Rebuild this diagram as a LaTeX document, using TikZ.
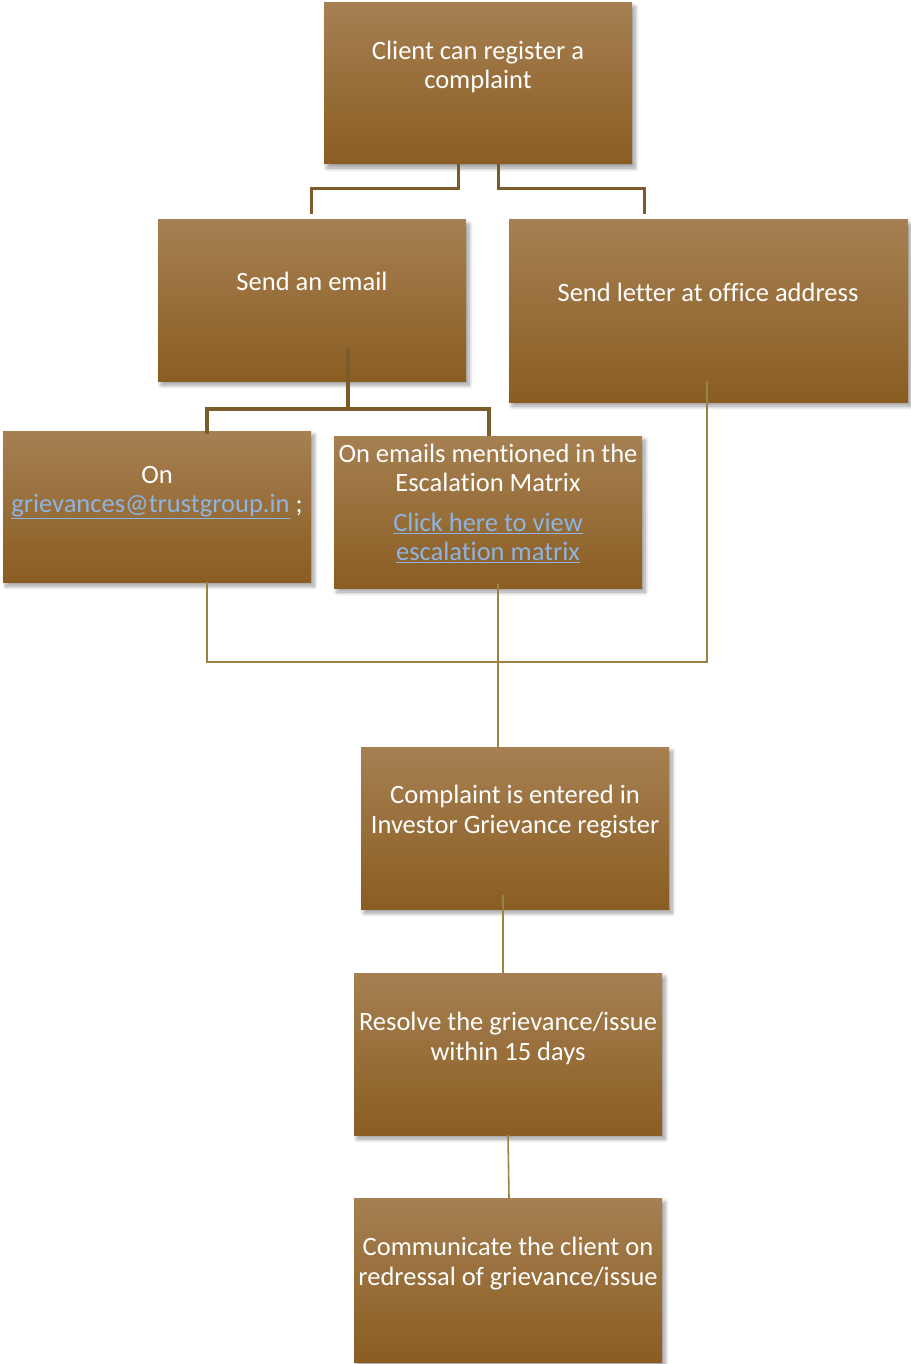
\documentclass[tikz,border=0pt]{standalone}
\usepackage{fontspec}
\setmainfont{Carlito}[Ligatures=NoCommon]
\usetikzlibrary{shadows.blur}
\definecolor{boxtop}{HTML}{A68052}
\definecolor{boxbot}{HTML}{8A5D22}
\definecolor{conndark}{HTML}{7C5B2A}
\definecolor{connolive}{HTML}{9A8240}
\definecolor{linkblue}{HTML}{8DB4E2}
\tikzset{
  box/.style={rectangle, inner sep=0pt, top color=boxtop, bottom color=boxbot, draw=none,
    blur shadow={shadow xshift=3pt, shadow yshift=-4pt, shadow blur steps=8, shadow blur radius=4pt, shadow opacity=40}},
  txt/.style={text=white, align=center, inner sep=0pt, font=\fontsize{26.5}{29.5}\selectfont},
  conn/.style={draw=conndark, line width=3pt},
  connthick/.style={draw=conndark, line width=3.5pt},
  merge/.style={draw=connolive, line width=1.6pt},
  mid/.style={draw=connolive, line width=2.4pt},
}
\newcommand{\lnk}[1]{\textcolor{linkblue}{\underline{#1}}}
\begin{document}
\begin{tikzpicture}[x=1pt, y=-1pt]
\useasboundingbox (0,0) rectangle (910,1364);
% boxes
\node[box, minimum width=308pt, minimum height=161pt] (b1) at (478,83.5) {};
\node[box, minimum width=308pt, minimum height=161pt] (b2) at (312,300.5) {};
\node[box, minimum width=399pt, minimum height=182pt] (b3) at (708.5,311) {};
\node[box, minimum width=308pt, minimum height=151pt] (b4) at (157,506.5) {};
\node[box, minimum width=308pt, minimum height=152pt] (b5) at (488,512) {};
\node[box, minimum width=308pt, minimum height=162pt] (b6) at (515,828) {};
\node[box, minimum width=308pt, minimum height=162pt] (b7) at (508,1054) {};
\node[box, minimum width=308pt, minimum height=164pt] (b8) at (508,1280) {};
% texts
\node[txt] (t1) at (478,67) {Client can register a\\complaint};
\node[txt] (t2) at (312,281) {Send an email};
\node[txt] (t3) at (708,292) {Send letter at office address};
\node[txt] (t4) at (157,492.5) {On\\\lnk{grievances@trustgroup.in} ;};
\node[txt] (t5) at (488,503.5) {On emails mentioned in the\\Escalation Matrix\\[10pt]\lnk{Click here to view}\\\lnk{escalation matrix}};
\node[txt] (t6) at (515,811.5) {Complaint is entered in\\Investor Grievance register};
\node[txt] (t7) at (508,1038.5) {Resolve the grievance/issue\\within 15 days};
\node[txt] (t8) at (508,1263.5) {Communicate the client on\\redressal of grievance/issue};
% connectors
\draw[conn] ([xshift=-20pt]b1.south) -- ++(0,24) -| ([xshift=-1pt,yshift=6pt]b2.north);
\draw[conn] ([xshift=20pt]b1.south) -- ++(0,24) -| ([xshift=-64.5pt,yshift=6pt]b3.north);
\draw[connthick] ([xshift=36pt,yshift=33pt]b2.south) -- ([xshift=36pt,yshift=-28pt]b2.south)
  -| ([xshift=50pt,yshift=-3pt]b4.north);
\draw[connthick] ([xshift=36pt,yshift=-28pt]b2.south) -| ([xshift=1pt]b5.north);
\draw[merge] ([xshift=50pt]b4.south) -- ++(0,80) -| ([xshift=-1.5pt,yshift=21pt]b3.south);
\draw[merge] ([xshift=10pt,yshift=4pt]b5.south) -- ([xshift=-17pt]b6.north);
\draw[mid] ([xshift=-12pt,yshift=14pt]b6.south) -- ([xshift=-5pt]b7.north);
\draw[merge] (b7.south) -- ([xshift=1pt]b8.north);
\end{tikzpicture}
\end{document}
